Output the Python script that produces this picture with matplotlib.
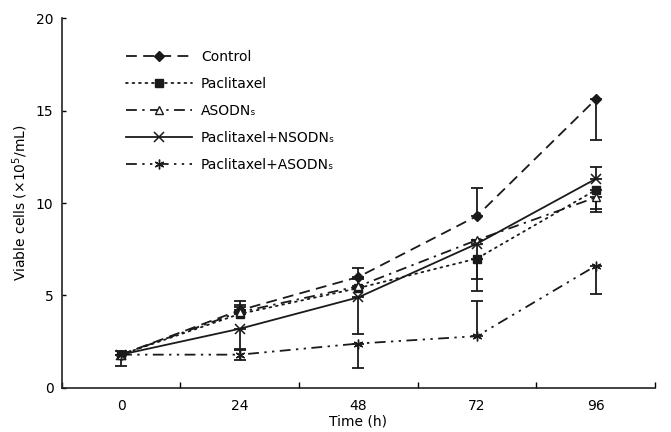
import numpy as np
import matplotlib
matplotlib.use("Agg")
import matplotlib.pyplot as plt

# time points (h) shown as evenly spaced categories
TIMES = ["0", "24", "48", "72", "96"]

control = [1.8, 4.2, 6.0, 9.3, 15.6]
paclitaxel = [1.8, 4.0, 5.4, 7.0, 10.7]
asodn = [1.8, 4.1, 5.5, 8.0, 10.3]
pac_nsodn = [1.8, 3.2, 4.9, 7.8, 11.3]
pac_asodn = [1.8, 1.8, 2.4, 2.8, 6.6]

# error bars (lower, upper)
control_err = ([0, 0, 0, 0, 2.2], [0.2, 0.5, 0.5, 1.5, 0])
paclitaxel_err = ([0, 0, 0, 1.1, 1.2], [0, 0.4, 0, 0, 0])
asodn_err = ([0, 0, 0, 0, 0.6], [0, 0.4, 0.4, 0, 0])
pac_nsodn_err = ([0, 1.1, 2.0, 2.55, 0], [0, 0, 0, 0, 0.65])
pac_asodn_err = ([0.6, 0.3, 1.3, 0, 1.5], [0, 0.25, 0, 1.9, 0])

LABELS = ["Control", "Paclitaxel", "ASODN\u209b",
          "Paclitaxel+NSODN\u209b", "Paclitaxel+ASODN\u209b"]

plt.rcParams.update({"font.family": "DejaVu Sans", "font.size": 10})

fig = plt.figure(figsize=(6.71, 4.32), dpi=100)
ax = fig.add_axes([0.092, 0.102, 0.884, 0.856])

x = np.arange(len(TIMES))
K = "#1a1a1a"
series = [
    (control, control_err, dict(linestyle=(0, (6, 3.5)), marker="D", ms=5.5, mfc=K)),
    (paclitaxel, paclitaxel_err, dict(linestyle=(0, (1, 2.6)), marker="s", ms=6, mfc=K,
                                      dash_capstyle="round")),
    (asodn, asodn_err, dict(linestyle=(0, (6, 3, 1.3, 3)), marker="^", ms=6, mfc="white")),
    (pac_nsodn, pac_nsodn_err, dict(linestyle="-", marker="x", ms=6.5, mew=1.1)),
    (pac_asodn, pac_asodn_err, dict(linestyle=(0, (6, 3, 1.3, 3, 1.3, 3)),
                                    marker=(6, 2, 0), ms=7, mew=1.0)),
]
handles = []
for (y, err, style), lab in zip(series, LABELS):
    ax.errorbar(x, y, yerr=np.array(err), fmt="none", ecolor=K, elinewidth=1.3,
                capsize=4.5, capthick=1.3, zorder=2)
    h, = ax.plot(x, y, color=K, lw=1.3, mec=K, label=lab, zorder=3, **style)
    handles.append(h)

ax.set_xlim(-0.5, 4.5)
ax.set_ylim(0, 20)
ax.set_yticks([0, 5, 10, 15, 20])
ax.set_xticks(np.arange(-0.5, 4.6, 1.0))
ax.set_xticklabels([])
ax.set_xticks(x, minor=True)
ax.set_xticklabels(TIMES, minor=True)
ax.tick_params(axis="x", which="minor", length=0, pad=8, labelsize=10)
ax.tick_params(axis="x", which="major", direction="in", length=4, width=1)
ax.tick_params(axis="y", direction="in", length=3, width=1, pad=6, labelsize=10)
for s in ("top", "right"):
    ax.spines[s].set_visible(False)
for s in ("left", "bottom"):
    ax.spines[s].set_linewidth(1.2)
    ax.spines[s].set_color("#222222")

ax.set_xlabel("Time (h)", labelpad=1)
ax.set_ylabel(r"Viable cells ($\times$10$^5$/mL)", labelpad=4)

ax.legend(handles=handles, loc="upper left", bbox_to_anchor=(0.108, 0.915),
          frameon=False, borderpad=0, borderaxespad=0, handlelength=4.8,
          handletextpad=0.6, labelspacing=0.95, fontsize=10)

fig.savefig("out.png", dpi=100)
